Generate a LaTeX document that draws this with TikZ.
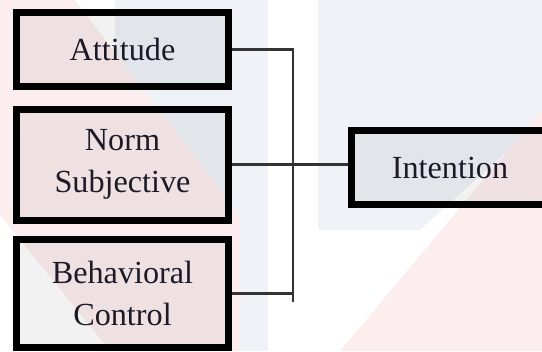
\documentclass[tikz,border=0pt]{standalone}
\usepackage{fontspec}
\setmainfont{Liberation Serif}
\definecolor{wmpink}{RGB}{252,238,238}
\definecolor{wmblue}{RGB}{239,243,248}
\definecolor{inktext}{RGB}{28,26,40}
\tikzset{
	factor/.style={draw=black,line width=0.21cm,fill=black,fill opacity=0.05,text opacity=1,text=inktext,align=center,minimum width=6.36cm,inner sep=0pt,font=\fontsize{27.5}{36}\selectfont},
	link/.style={draw=black!80,line width=0.075cm}
}
\begin{document}
\begin{tikzpicture}[x=0.03cm,y=-0.03cm]
	\useasboundingbox (0,0) rectangle (542,351);
	\fill[wmblue] (115,0) -- (268,0) -- (268,351) -- (115,351) -- cycle;
	\fill[wmblue] (318,0) -- (542,0) -- (542,120) -- (420,230) -- (318,230) -- cycle;
	\fill[wmpink] (0,0) -- (75,0) -- (240,215) -- (240,351) -- (110,351) -- (0,215) -- cycle;
	\fill[wmpink] (340,351) -- (542,110) -- (542,351) -- cycle;

	\node[factor,minimum height=2.22cm] (att) at (122.5,49.5) {Attitude};
	\node[factor,minimum height=3.33cm] (norm) at (122.5,164.5) {Norm\\Subjective};
	\node[factor,minimum height=3.24cm] (beh) at (122.5,293.5) {Behavioral\\Control};
	\node[factor,minimum width=5.91cm,minimum height=2.22cm] (int) at (450,167.5) {Intention};

	\coordinate (busend) at (293,302);
	\draw[link] (att.east) -| (busend);
	\draw[link] (beh.east) -- (beh.east -| busend);
	\draw[link] (norm.east) -- (norm.east -| int.west);
\end{tikzpicture}
\end{document}
